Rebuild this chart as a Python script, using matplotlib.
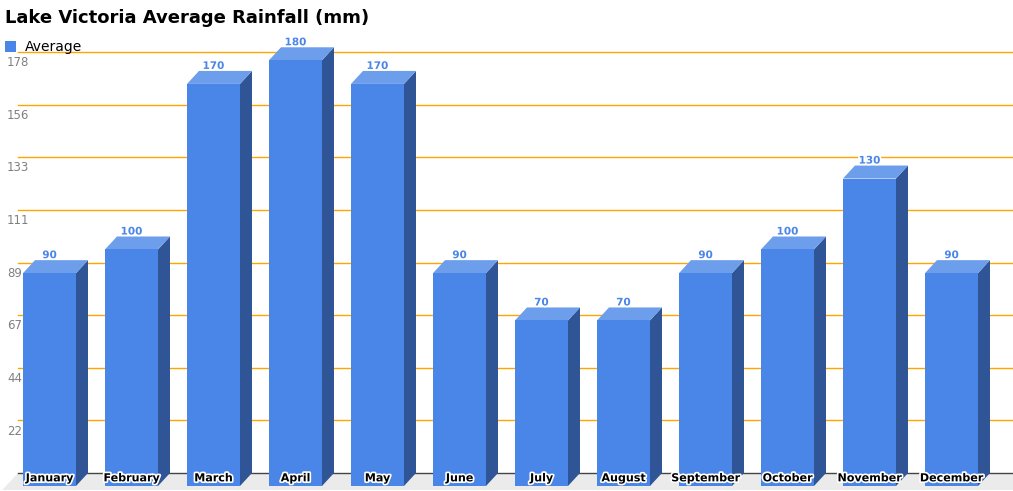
import matplotlib
matplotlib.use("Agg")
import matplotlib.pyplot as plt
from matplotlib.patches import Polygon, Rectangle
import matplotlib.patheffects as pe

# ---- data ----
months = ["January", "February", "March", "April", "May", "June", "July",
          "August", "September", "October", "November", "December"]
rainfall = [90, 100, 170, 180, 170, 90, 70, 70, 90, 100, 130, 90]
ytick_labels = ["22", "44", "67", "89", "111", "133", "156", "178"]
y_max = 178
title = "Lake Victoria Average Rainfall (mm)"
series_name = "Average"

# ---- style / layout ----
W, H = 1013, 491
FRONT = "#4a86e8"
SIDE = "#2f5597"
TOP = "#6d9eeb"
GRID = "#ffa500"
FLOOR = "#ebebeb"

left_px = 18          # start of plot wall
top_px = 52           # pixel row of y_max
base_px = 473         # pixel row of y = 0 on back wall
first_center_px = 61.5
cat_px = 82.0
bar_px = 53.0
depth_dx_px, depth_dy_px = 12.0, 13.0

px_per_unit = (base_px - top_px) / y_max
y_bottom = -(H - base_px) / px_per_unit
y_top = base_px / px_per_unit

fig = plt.figure(figsize=(W / 100, H / 100), dpi=100)
fig.patch.set_facecolor("white")
ax = fig.add_axes([left_px / W, 0, 1 - left_px / W, 1])
ax.set_ylim(y_bottom, y_top)
ax.set_xlim((left_px - first_center_px) / cat_px, (W - first_center_px) / cat_px)
ax.axis("off")

dx = depth_dx_px / cat_px
dy = depth_dy_px / px_per_unit
bw = bar_px / cat_px
x0, x1 = ax.get_xlim()

# floor
floor_dx = dx * 17 / 13
floor_dy = dy * 17 / 13
ax.add_patch(Polygon([(x0, 0), (x1 + 1, 0), (x1 + 1 - floor_dx, -floor_dy),
                      (x0 - floor_dx, -floor_dy)], closed=True,
                     facecolor=FLOOR, edgecolor="none", zorder=0, clip_on=False))
ax.plot([x0, x1], [0, 0], color="#444444", lw=1.0, zorder=1, clip_on=False)

# gridlines & tick labels
n_ticks = len(ytick_labels)
for k, lab in enumerate(ytick_labels, start=1):
    yv = y_max * k / n_ticks
    ax.plot([x0, x1], [yv, yv], color=GRID, lw=1.0, zorder=1, clip_on=False)
    ax.annotate(lab, xy=(7, yv), xycoords=("figure pixels", "data"),
                xytext=(0, -3), textcoords="offset points",
                ha="left", va="top", fontsize=8.5, color="#808080")

# bars
stroke_w = [pe.withStroke(linewidth=2.4, foreground="white")]
for i, (m, v) in enumerate(zip(months, rainfall)):
    fl = i - bw / 2 - dx
    fr = fl + bw
    # side
    ax.add_patch(Polygon([(fr, -dy), (fr + dx, 0), (fr + dx, v), (fr, v - dy)],
                         closed=True, facecolor=SIDE, edgecolor="none", zorder=3))
    # top
    ax.add_patch(Polygon([(fl, v - dy), (fr, v - dy), (fr + dx, v), (fl + dx, v)],
                         closed=True, facecolor=TOP, edgecolor="none", zorder=3))
    # front
    ax.add_patch(Rectangle((fl, -dy), bw, v, facecolor=FRONT,
                           edgecolor="none", zorder=4))
    xc = fl + bw / 2
    ax.annotate(str(v), xy=(xc, v), xytext=(0, 0), textcoords="offset points",
                ha="center", va="bottom", fontsize=7.5, fontweight="bold",
                color=FRONT, path_effects=stroke_w, zorder=6)
    ax.annotate(m, xy=(xc, -dy), xytext=(0, 5.5), textcoords="offset points",
                ha="center", va="center", fontsize=8, fontweight="bold",
                color="black", path_effects=stroke_w, zorder=6)

# title & legend
fig.text(5 / W, 1 - 18 / H, title, ha="left", va="center",
         fontsize=13, fontweight="bold", color="black")
fig.patches.append(Rectangle((5 / W, 1 - 52 / H), 11 / W, 11 / H,
                             transform=fig.transFigure, facecolor=FRONT,
                             edgecolor="none"))
fig.text(25 / W, 1 - 47 / H, series_name, ha="left", va="center",
         fontsize=10, color="black")

fig.savefig("out.png", dpi=100, facecolor="white")
